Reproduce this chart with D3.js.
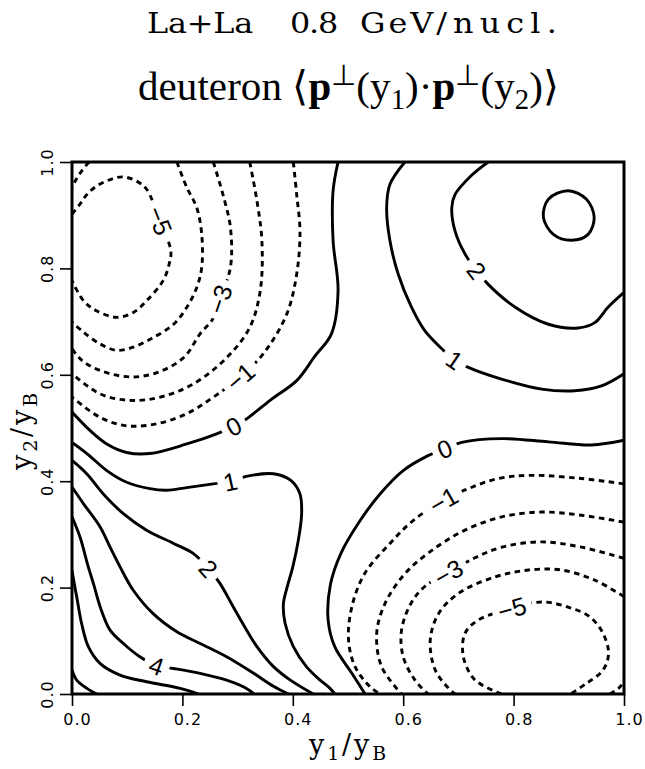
<!DOCTYPE html>
<html>
<head>
<meta charset="UTF-8">
<title>La+La deuteron correlation</title>
<script src="https://d3js.org/d3.v7.min.js"></script>
<style>
  body { margin: 0; background: #fff; }
  svg { display: block; }
</style>
</head>
<body>
<div id="chart"></div>
<script>
// tick values on both axes
var xTicks = [0, 0.2, 0.4, 0.6, 0.8, 1.0];
var yTicks = [0, 0.2, 0.4, 0.6, 0.8, 1.0];

// contour lines, points are [y1/yB, y2/yB]
// upper-left valley (negative levels)
var neg4CornerTL = [[0.031,1.0],[0.018,0.984],[0.008,0.968],[0,0.952]];
var neg5TL = [[0,0.902],[0.0145,0.921],[0.027,0.939],[0.045,0.955],[0.069,0.967],[0.093,0.972],[0.117,0.964],[0.135,0.949],[0.159,0.89],[0.179,0.833],[0.176,0.808],[0.165,0.777],[0.135,0.739],[0.111,0.717],[0.081,0.708],[0.045,0.72],[0.021,0.739],[0,0.777]];
var neg4TL = [[0.19,1.0],[0.208,0.952],[0.226,0.914],[0.235,0.864],[0.235,0.802],[0.226,0.764],[0.208,0.727],[0.184,0.695],[0.147,0.67],[0.111,0.652],[0.081,0.646],[0.051,0.658],[0.021,0.68],[0,0.699]];
var neg3TL = [[0.256,1.0],[0.275,0.933],[0.287,0.877],[0.287,0.802],[0.268,0.742],[0.255,0.705],[0.232,0.677],[0.203,0.633],[0.154,0.604],[0.105,0.596],[0.051,0.608],[0.018,0.627],[0,0.649]];
var neg2TL = [[0.322,1.0],[0.335,0.927],[0.344,0.852],[0.341,0.758],[0.322,0.689],[0.281,0.633],[0.22,0.583],[0.16,0.558],[0.105,0.552],[0.051,0.564],[0,0.602]];
var neg1TL = [[0.401,1.0],[0.407,0.939],[0.413,0.87],[0.407,0.789],[0.389,0.714],[0.347,0.64],[0.305,0.596],[0.256,0.558],[0.208,0.527],[0.154,0.508],[0.099,0.504],[0.051,0.52],[0,0.558]];
var zeroTL = [[0.482,1.0],[0.473,0.946],[0.473,0.852],[0.482,0.758],[0.47,0.677],[0.44,0.635],[0.407,0.589],[0.36,0.553],[0.316,0.517],[0.293,0.503],[0.262,0.489],[0.208,0.47],[0.141,0.452],[0.099,0.454],[0.063,0.47],[0.033,0.495],[0,0.53]];

// lower-left ridge (positive levels)
var oneBL = [[0,0.473],[0.027,0.452],[0.063,0.42],[0.099,0.398],[0.141,0.386],[0.171,0.383],[0.208,0.388],[0.256,0.395],[0.287,0.399],[0.316,0.409],[0.365,0.414],[0.397,0.401],[0.413,0.376],[0.416,0.339],[0.41,0.289],[0.4,0.239],[0.389,0.198],[0.383,0.17],[0.386,0.133],[0.401,0.089],[0.425,0.051],[0.449,0.0265],[0.467,0.011],[0.476,0]];
var twoBL = [[0,0.439],[0.0266,0.414],[0.0567,0.376],[0.093,0.339],[0.135,0.308],[0.184,0.283],[0.22,0.264],[0.247,0.236],[0.268,0.208],[0.292,0.164],[0.313,0.126],[0.335,0.089],[0.365,0.0515],[0.395,0.0265],[0.437,0]];
var threeBL = [[0,0.389],[0.0206,0.358],[0.051,0.314],[0.069,0.276],[0.087,0.239],[0.111,0.195],[0.147,0.151],[0.19,0.117],[0.232,0.095],[0.28,0.07],[0.329,0.039],[0.365,0.0144],[0.392,0]];
var fourBL = [[0,0.333],[0.0145,0.295],[0.0295,0.239],[0.039,0.207],[0.051,0.164],[0.069,0.12],[0.093,0.095],[0.123,0.07],[0.153,0.053],[0.184,0.048],[0.232,0.0388],[0.28,0.026],[0.316,0.0105],[0.33,0]];
var fiveBL = [[0,0.232],[0.0054,0.2],[0.0085,0.183],[0.0175,0.132],[0.0296,0.089],[0.0507,0.0576],[0.087,0.0356],[0.135,0.023],[0.196,0.0105],[0.229,0]];
var sixBL = [[0,0.045],[0.0085,0.026],[0.027,0.0106],[0.045,0]];

// upper-right hill
var oneUR = [[0.603,1.0],[0.576,0.958],[0.57,0.914],[0.576,0.852],[0.591,0.789],[0.615,0.727],[0.639,0.683],[0.673,0.646],[0.693,0.628],[0.718,0.614],[0.778,0.592],[0.851,0.573],[0.911,0.57],[0.959,0.579],[1.0,0.602]];
var twoUR = [[0.754,1.0],[0.724,0.975],[0.694,0.939],[0.688,0.914],[0.694,0.87],[0.712,0.827],[0.733,0.796],[0.754,0.77],[0.803,0.727],[0.863,0.695],[0.917,0.688],[0.947,0.698],[0.971,0.727],[1.0,0.755]];
var threeUR = [[0.899,0.946],[0.932,0.93],[0.946,0.896],[0.935,0.864],[0.905,0.853],[0.872,0.864],[0.854,0.896],[0.863,0.93]];

// lower-right valley
var zeroBR = [[0.531,0],[0.507,0.039],[0.476,0.089],[0.464,0.139],[0.468,0.205],[0.487,0.264],[0.522,0.326],[0.558,0.376],[0.6,0.42],[0.645,0.448],[0.675,0.461],[0.706,0.473],[0.778,0.48],[0.863,0.474],[0.941,0.468],[1.0,0.477]];
var neg1BR = [[1.0,0.395],[0.923,0.405],[0.833,0.411],[0.772,0.405],[0.718,0.386],[0.673,0.364],[0.618,0.326],[0.576,0.283],[0.53,0.226],[0.507,0.164],[0.501,0.101],[0.513,0.051],[0.54,0.0135],[0.558,0]];
var neg2BR = [[1.0,0.323],[0.923,0.336],[0.851,0.342],[0.779,0.333],[0.712,0.308],[0.652,0.27],[0.603,0.226],[0.567,0.17],[0.552,0.114],[0.561,0.051],[0.597,0]];
var neg3BR = [[1.0,0.255],[0.923,0.276],[0.851,0.286],[0.779,0.276],[0.73,0.256],[0.682,0.228],[0.64,0.203],[0.615,0.172],[0.597,0.12],[0.6,0.07],[0.621,0.0265],[0.645,0]];
var neg4BR = [[1.0,0.183],[0.947,0.214],[0.887,0.233],[0.827,0.233],[0.766,0.22],[0.7,0.189],[0.664,0.151],[0.649,0.101],[0.658,0.045],[0.682,0.011],[0.694,0]];
var neg5BR = [[0.778,0],[0.73,0.0265],[0.709,0.07],[0.712,0.114],[0.736,0.139],[0.797,0.161],[0.851,0.173],[0.9,0.163],[0.938,0.145],[0.962,0.114],[0.972,0.076],[0.962,0.045],[0.932,0.02],[0.903,0]];
var neg4CornerBR = [[0.974,0],[0.986,0.007],[0.995,0.016],[1.0,0.026]];

var contourLines = [
    { level: -4, pts: neg4CornerTL }, { level: -5, pts: neg5TL }, { level: -4, pts: neg4TL },
    { level: -3, pts: neg3TL }, { level: -2, pts: neg2TL }, { level: -1, pts: neg1TL },
    { level: 0, pts: zeroTL }, { level: 1, pts: oneBL }, { level: 2, pts: twoBL },
    { level: 3, pts: threeBL }, { level: 4, pts: fourBL }, { level: 5, pts: fiveBL },
    { level: 6, pts: sixBL }, { level: 1, pts: oneUR }, { level: 2, pts: twoUR },
    { level: 3, pts: threeUR, closed: true }, { level: 0, pts: zeroBR }, { level: -1, pts: neg1BR },
    { level: -2, pts: neg2BR }, { level: -3, pts: neg3BR }, { level: -4, pts: neg4BR },
    { level: -5, pts: neg5BR }, { level: -4, pts: neg4CornerBR }
];

// contour labels: text, line, point on that line
var contourLabels = [
    { text: '\u22125', pts: neg5TL, at: [0.159, 0.89] },
    { text: '\u22123', pts: neg3TL, at: [0.268, 0.742] },
    { text: '\u22121', pts: neg1TL, at: [0.305, 0.596] },
    { text: '0', pts: zeroTL, at: [0.293, 0.503] },
    { text: '1', pts: oneBL, at: [0.287, 0.399] },
    { text: '2', pts: twoBL, at: [0.247, 0.236] },
    { text: '4', pts: fourBL, at: [0.153, 0.053] },
    { text: '1', pts: oneUR, at: [0.693, 0.628] },
    { text: '2', pts: twoUR, at: [0.733, 0.796] },
    { text: '0', pts: zeroBR, at: [0.675, 0.461] },
    { text: '\u22121', pts: neg1BR, at: [0.673, 0.364] },
    { text: '\u22123', pts: neg3BR, at: [0.682, 0.228] },
    { text: '\u22125', pts: neg5BR, at: [0.797, 0.161] }
];

// title pieces
var titleWords = ['La+La', '0.8', 'GeV/', 'nucl.'];

var svg = d3.select('#chart').append('svg')
    .attr('width', 645)
    .attr('height', 769);

var x = d3.scaleLinear().domain([0, 1]).range([72, 624]);
var y = d3.scaleLinear().domain([0, 1]).range([694, 162]);

svg.append('clipPath').attr('id', 'plot-clip')
  .append('rect')
    .attr('x', x(0)).attr('y', y(1))
    .attr('width', x(1) - x(0)).attr('height', y(0) - y(1));

var line = d3.line()
    .x(function(d) { return x(d[0]); })
    .y(function(d) { return y(d[1]); })
    .curve(d3.curveCatmullRom.alpha(0.5));
var loop = d3.line()
    .x(function(d) { return x(d[0]); })
    .y(function(d) { return y(d[1]); })
    .curve(d3.curveCatmullRomClosed.alpha(0.5));

svg.append('g')
    .attr('clip-path', 'url(#plot-clip)')
  .selectAll('path')
    .data(contourLines)
    .enter()
  .append('path')
    .attr('d', function(d) { return d.closed ? loop(d.pts) : line(d.pts); })
    .attr('fill', 'none')
    .attr('stroke', '#000')
    .attr('stroke-width', 2.9)
    .attr('stroke-dasharray', function(d) { return d.level < 0 ? '5.5,4.5' : null; });

// labels sit on the line, turned along it, with a white patch cutting the line
var labels = svg.append('g')
  .selectAll('g')
    .data(contourLabels)
    .enter()
  .append('g')
    .attr('transform', function(d) {
        var pts = d.pts, best = 0, bestDist = Infinity;
        pts.forEach(function(p, i) {
            var dd = (p[0] - d.at[0]) * (p[0] - d.at[0]) + (p[1] - d.at[1]) * (p[1] - d.at[1]);
            if (dd < bestDist) { bestDist = dd; best = i; }
        });
        var a = pts[Math.max(best - 1, 0)], b = pts[Math.min(best + 1, pts.length - 1)];
        var ang = Math.atan2(y(b[1]) - y(a[1]), x(b[0]) - x(a[0])) * 180 / Math.PI;
        if (ang > 90) ang -= 180;
        if (ang < -90) ang += 180;
        return 'translate(' + x(d.at[0]) + ',' + y(d.at[1]) + ') rotate(' + ang + ')';
    });

labels.append('text')
    .attr('text-anchor', 'middle')
    .attr('dy', '0.36em')
    .attr('font-family', 'Liberation Sans, Arial, sans-serif')
    .attr('font-size', 25)
    .text(function(d) { return d.text; });

labels.each(function() {
    var bb = d3.select(this).select('text').node().getBBox();
    d3.select(this).insert('rect', 'text')
        .attr('x', bb.x - 6).attr('y', bb.y + 2)
        .attr('width', bb.width + 12).attr('height', bb.height - 4)
        .attr('fill', '#fff');
});

// frame
svg.append('rect')
    .attr('x', x(0)).attr('y', y(1))
    .attr('width', x(1) - x(0)).attr('height', y(0) - y(1))
    .attr('fill', 'none')
    .attr('stroke', '#000')
    .attr('stroke-width', 3);

// axes
var fmt = d3.format('.1f');
var xAxis = svg.append('g')
    .attr('transform', 'translate(0,' + y(0) + ')')
    .call(d3.axisBottom(x).tickValues(xTicks).tickSize(12).tickPadding(8).tickFormat(fmt));
xAxis.select('.domain').remove();
xAxis.selectAll('line').attr('stroke-width', 1.6);
xAxis.selectAll('text')
    .attr('dx', 5)
    .attr('font-family', 'DejaVu Sans, sans-serif')
    .attr('font-size', 16)
    .attr('letter-spacing', 1);

var yAxis = svg.append('g')
    .attr('transform', 'translate(' + x(0) + ',0)')
    .call(d3.axisLeft(y).tickValues(yTicks).tickSize(12).tickFormat(fmt));
yAxis.select('.domain').remove();
yAxis.selectAll('line').attr('stroke-width', 1.6);
yAxis.selectAll('text')
    .attr('transform', 'rotate(-90)')
    .attr('x', 0)
    .attr('y', -19)
    .attr('dy', 0)
    .attr('text-anchor', 'middle')
    .attr('font-family', 'DejaVu Sans, sans-serif')
    .attr('font-size', 16)
    .attr('letter-spacing', 1);

// stretch a text to a given width by adding letter spacing
function fitWidth(sel, target) {
    var n = sel.text().length;
    var w = sel.node().getComputedTextLength();
    sel.attr('letter-spacing', (target - w) / n);
}

// axis titles
function ratioTitle(g, sub) {
    g.append('tspan').text('y');
    g.append('tspan').attr('font-size', '70%').attr('dy', 6).text(sub);
    g.append('tspan').attr('dy', -6).text('/y');
    g.append('tspan').attr('font-size', '70%').attr('dy', 6).text('B');
}

var xTitle = svg.append('text')
    .attr('x', 349).attr('y', 754)
    .attr('text-anchor', 'middle')
    .attr('font-family', 'DejaVu Serif, serif')
    .attr('font-size', 27);
ratioTitle(xTitle, '1');
fitWidth(xTitle, 80);

var yTitle = svg.append('text')
    .attr('transform', 'translate(31,430) rotate(-90)')
    .attr('text-anchor', 'middle')
    .attr('font-family', 'DejaVu Serif, serif')
    .attr('font-size', 27);
ratioTitle(yTitle, '2');
fitWidth(yTitle, 80);

// title, first line: a wide serif face, word starts and widths follow the reference
var wordX = [147, 290, 360, 453];
var wordW = [106, 47, 90, 110];
var stretch = 1.18;
titleWords.forEach(function(w, i) {
    var t = svg.append('text')
        .attr('transform', 'translate(' + wordX[i] + ',33) scale(' + stretch + ',1)')
        .attr('font-family', 'DejaVu Serif, serif')
        .attr('font-size', 27)
        .text(w);
    fitWidth(t, wordW[i] / stretch);
});

var t2 = svg.append('text')
    .attr('x', 138).attr('y', 100)
    .attr('font-family', 'Liberation Serif, Times New Roman, serif')
    .attr('font-size', 41);
t2.append('tspan').text('deuteron \u27e8');
t2.append('tspan').attr('font-weight', 'bold').text('p');
t2.append('tspan').attr('font-size', '70%').attr('dy', -15).text('\u22a5');
t2.append('tspan').attr('dy', 15).text('(y');
t2.append('tspan').attr('font-size', '70%').attr('dy', 9).text('1');
t2.append('tspan').attr('dy', -9).text(')\u00b7');
t2.append('tspan').attr('font-weight', 'bold').text('p');
t2.append('tspan').attr('font-size', '70%').attr('dy', -15).text('\u22a5');
t2.append('tspan').attr('dy', 15).text('(y');
t2.append('tspan').attr('font-size', '70%').attr('dy', 9).text('2');
t2.append('tspan').attr('dy', -9).text(')\u27e9');
fitWidth(t2, 421);
</script>
</body>
</html>
